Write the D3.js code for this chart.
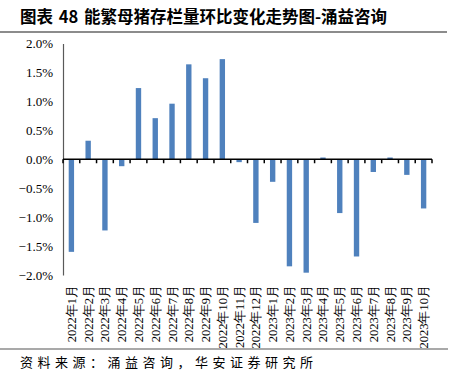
<!DOCTYPE html>
<html><head><meta charset="utf-8">
<script src="https://cdn.jsdelivr.net/npm/d3@7/dist/d3.min.js"></script>
<style>body{margin:0;background:#fff;}svg{display:block;}</style>
</head><body>
<script>
const categories = ["2022年1月","2022年2月","2022年3月","2022年4月","2022年5月","2022年6月","2022年7月","2022年8月","2022年9月","2022年10月","2022年11月","2022年12月","2023年1月","2023年2月","2023年3月","2023年4月","2023年5月","2023年6月","2023年7月","2023年8月","2023年9月","2023年10月"];
const values = [-1.60,0.32,-1.23,-0.12,1.23,0.71,0.96,1.64,1.40,1.73,-0.05,-1.10,-0.39,-1.85,-1.96,0.03,-0.93,-1.68,-0.22,0.03,-0.27,-0.85];
const yTicks = [-2.0,-1.5,-1.0,-0.5,0.0,0.5,1.0,1.5,2.0];
const titleParts = ["图表 ", "48 ", "能繁母猪存栏量环比变化走势图-涌益咨询"];
const sourceText = "资料来源：涌益咨询，华安证券研究所";

const W = 457, H = 392;
const svg = d3.select("body").append("svg").attr("width", W).attr("height", H);

// Title
const title = svg.append("text").attr("x", 20).attr("y", 23)
  .attr("font-family", "'Noto Sans CJK SC', sans-serif").attr("font-weight", "bold")
  .attr("font-size", 16.5).attr("fill", "#000");
title.selectAll("tspan").data(titleParts).join("tspan")
  .attr("dx", (d, i) => i === 0 ? 0 : 2).text(d => d);
svg.append("line").attr("x1", 0).attr("x2", 447).attr("y1", 32).attr("y2", 32)
  .attr("stroke", "#8c8c8c").attr("stroke-width", 2);

const x = d3.scaleBand().domain(categories).range([63, 432]).paddingInner(0.68).paddingOuter(0.34);
const y = d3.scaleLinear().domain([-2, 2]).range([275, 43.5]);

// Y axis
const yAxis = svg.append("g").attr("transform", "translate(63,0)")
  .call(d3.axisLeft(y).tickValues(yTicks).tickSize(0).tickPadding(10).tickFormat(d => d3.format(".1f")(d) + "%"));
yAxis.select(".domain").attr("stroke", "#595959").attr("stroke-width", 1.2);
yAxis.selectAll("text").attr("font-family", "'Liberation Serif', 'Times New Roman', serif")
  .attr("font-size", 13).attr("fill", "#000");

// Bars
svg.append("g").selectAll("rect").data(values).join("rect")
  .attr("x", (d, i) => x(categories[i]))
  .attr("width", x.bandwidth())
  .attr("y", d => y(Math.max(0, d)))
  .attr("height", d => Math.abs(y(d) - y(0)))
  .attr("fill", "#4f81bd");

// X axis at zero with ticks at category boundaries
const step = x.step();
const x0 = 63;
const xAxisG = svg.append("g");
xAxisG.append("line").attr("x1", x0).attr("x2", 432).attr("y1", y(0)).attr("y2", y(0))
  .attr("stroke", "#000").attr("stroke-width", 1.5);
const boundaries = d3.range(categories.length + 1);
xAxisG.selectAll("line.tick").data(boundaries).join("line").attr("class", "tick")
  .attr("x1", i => x0 + i * step).attr("x2", i => x0 + i * step)
  .attr("y1", y(0)).attr("y2", y(0) + 4)
  .attr("stroke", "#000").attr("stroke-width", 1.5);

// X labels
svg.append("g").selectAll("text").data(categories).join("text")
  .attr("transform", d => `translate(${x(d) + x.bandwidth() / 2 + 4.5},285) rotate(-90)`)
  .attr("text-anchor", "end")
  .attr("font-family", "'Liberation Serif', 'Times New Roman', serif")
  .attr("font-size", 12.5).attr("fill", "#000").text(d => d);

// Bottom line and source
svg.append("line").attr("x1", 0).attr("x2", 448).attr("y1", 349).attr("y2", 349)
  .attr("stroke", "#8c8c8c").attr("stroke-width", 1.5);
svg.append("text").attr("x", 20).attr("y", 367)
  .attr("font-family", "'Noto Sans CJK SC', serif").attr("font-size", 13)
  .attr("letter-spacing", 4.5).attr("fill", "#000").text(sourceText);
</script>
</body></html>
